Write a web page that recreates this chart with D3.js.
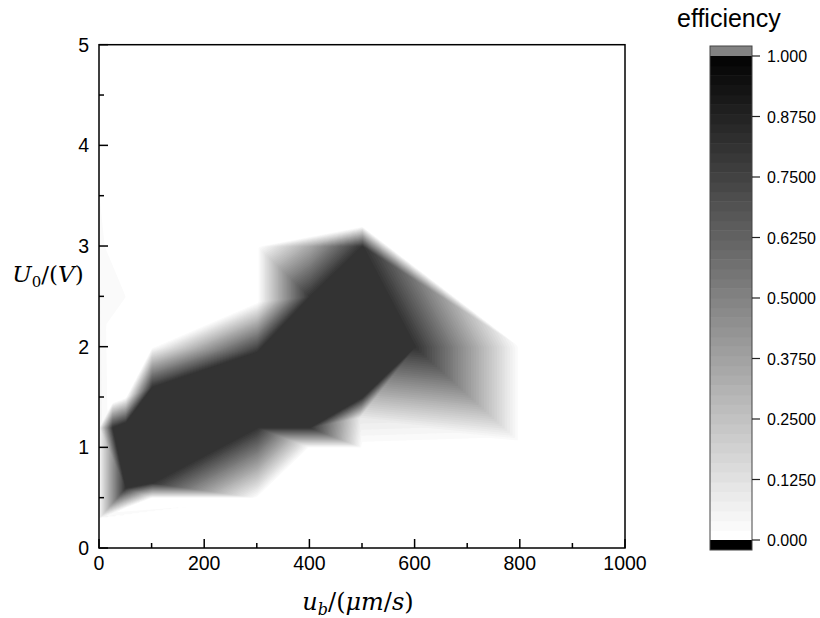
<!DOCTYPE html>
<html><head><meta charset="utf-8">
<script src="https://cdn.jsdelivr.net/npm/d3@7"></script>
<style>body{margin:0;background:#fff}</style>
</head><body><svg id="c" width="820" height="618"></svg>
<script>
// ---- data ----
const ubVals  = [0,   0,    0,    0,    20,  25,   25,  50,   50,   50,  50,  100, 100,  100,  100,  100, 300, 300,  300,  300,  300, 400, 400,  400,  400,  500, 495, 500,  500,  500, 600,  800, 800];
const u0Vals  = [4.0, 3.0,  1.2,  0.3,  3.0, 1.2,  1.45, 1.25, 0.6,  0.4, 1.5, 0.5, 0.65, 1.1,  1.6,  2.0, 0.5, 1.2,  1.95, 2.45, 3.0, 1.0, 1.2,  2.5,  3.0,  1.0, 1.3, 1.5,  3.0,  3.2, 2.0,  2.0, 1.05];
const effVals = [0.0, 0.04, 0.05, 0.05, 0.0, 0.81, 0.0, 0.81, 0.81, 0.0, 0.0, 0.0, 0.81, 0.81, 0.81, 0.0, 0.0, 0.81, 0.81, 0.0,  0.0, 0.0, 0.81, 0.81, 0.35, 0.0, 0.1, 0.81, 0.81, 0.0, 0.81, 0.0, 0.0];
const xTicks = [0, 200, 400, 600, 800, 1000];
const xMinor = [100, 300, 500, 700, 900];
const yTicks = [0, 1, 2, 3, 4, 5];
const yMinor = [0.5, 1.5, 2.5, 3.5, 4.5];
const cbTicks = [0, 0.125, 0.25, 0.375, 0.5, 0.625, 0.75, 0.875, 1.0];
const cbLabels = ["0.000", "0.1250", "0.2500", "0.3750", "0.5000", "0.6250", "0.7500", "0.8750", "1.000"];
const nLevels = 50;

// ---- layout ----
const L = 99, R = 625, T = 44.7, B = 548;
const svg = d3.select("#c");
const x = d3.scaleLinear().domain([0, 1000]).range([L, R]);
const y = d3.scaleLinear().domain([0, 5]).range([B, T]);
const levels = d3.range(nLevels).map(i => i / nLevels);
const gray = v => { const g = Math.round(255 * (1 - v)); return `rgb(${g},${g},${g})`; };

// ---- triangulated surface rasterised to a grid ----
const pts = ubVals.map((u, i) => [x(u) - L, y(u0Vals[i]) - T]);
const del = d3.Delaunay.from(pts);
const W = Math.round(R - L) + 1, H = Math.round(B - T) + 1;
const grid = new Float64Array(W * H).fill(-1);
const tri = del.triangles;
for (let k = 0; k < tri.length; k += 3) {
  const a = tri[k], b = tri[k + 1], c = tri[k + 2];
  const [ax, ay] = pts[a], [bx, by] = pts[b], [cx, cy] = pts[c];
  const den = (by - cy) * (ax - cx) + (cx - bx) * (ay - cy);
  if (Math.abs(den) < 1e-9) continue;
  const x0 = Math.max(0, Math.floor(Math.min(ax, bx, cx))), x1 = Math.min(W - 1, Math.ceil(Math.max(ax, bx, cx)));
  const y0 = Math.max(0, Math.floor(Math.min(ay, by, cy))), y1 = Math.min(H - 1, Math.ceil(Math.max(ay, by, cy)));
  for (let j = y0; j <= y1; j++) for (let i = x0; i <= x1; i++) {
    const w1 = ((by - cy) * (i - cx) + (cx - bx) * (j - cy)) / den;
    const w2 = ((cy - ay) * (i - cx) + (ax - cx) * (j - cy)) / den;
    const w3 = 1 - w1 - w2;
    if (w1 < -1e-6 || w2 < -1e-6 || w3 < -1e-6) continue;
    grid[j * W + i] = w1 * effVals[a] + w2 * effVals[b] + w3 * effVals[c];
  }
}
const contours = d3.contours().size([W, H]).smooth(true);
const path = d3.geoPath(d3.geoIdentity());
const gC = svg.append("g").attr("transform", `translate(${L},${T})`);
levels.forEach(t => {
  if (t === 0) return;
  gC.append("path").attr("d", path(contours.contour(grid, t - 1e-9))).attr("fill", gray(t));
});

// ---- axes ----
const tickFont = "Liberation Sans, Arial, sans-serif";
const ax = svg.append("g").attr("stroke", "#000").attr("stroke-width", 1.5);
ax.append("rect").attr("x", L).attr("y", T).attr("width", R - L).attr("height", B - T).attr("fill", "none");
xTicks.forEach(v => ax.append("line").attr("x1", x(v)).attr("x2", x(v)).attr("y1", B).attr("y2", B - 9));
xMinor.forEach(v => ax.append("line").attr("x1", x(v)).attr("x2", x(v)).attr("y1", B).attr("y2", B - 5));
yTicks.forEach(v => ax.append("line").attr("y1", y(v)).attr("y2", y(v)).attr("x1", L).attr("x2", L + 9));
yMinor.forEach(v => ax.append("line").attr("y1", y(v)).attr("y2", y(v)).attr("x1", L).attr("x2", L + 5));
svg.append("g").selectAll("text").data(xTicks).join("text")
  .attr("x", d => x(d)).attr("y", 570).attr("text-anchor", "middle")
  .attr("font-family", tickFont).attr("font-size", 19.5).text(d => d);
svg.append("g").selectAll("text").data(yTicks).join("text")
  .attr("x", 89).attr("y", d => y(d) + 7).attr("text-anchor", "end")
  .attr("font-family", tickFont).attr("font-size", 19.5).text(d => d);

const serif = "DejaVu Serif, Liberation Serif, serif";
const xl = svg.append("text").attr("x", 358).attr("y", 610).attr("text-anchor", "middle")
  .attr("font-family", serif).attr("font-size", 24);
xl.append("tspan").attr("font-style", "italic").text("u");
xl.append("tspan").attr("font-style", "italic").attr("font-size", 16).attr("dy", 5).text("b");
xl.append("tspan").attr("dy", -5).text("/(");
xl.append("tspan").attr("font-style", "italic").text("μm");
xl.append("tspan").text("/");
xl.append("tspan").attr("font-style", "italic").text("s");
xl.append("tspan").text(")");
const yl = svg.append("text").attr("x", 48).attr("y", 282).attr("text-anchor", "middle")
  .attr("font-family", serif).attr("font-size", 23);
yl.append("tspan").attr("font-style", "italic").text("U");
yl.append("tspan").attr("font-size", 15).attr("dy", 5).text("0");
yl.append("tspan").attr("dy", -5).text("/(");
yl.append("tspan").attr("font-style", "italic").text("V");
yl.append("tspan").text(")");

// ---- colour bar ----
const cbL = 710, cbR = 752;
const cy = d3.scaleLinear().domain([0, 1]).range([540, 56]);
const cb = svg.append("g");
levels.forEach(t => cb.append("rect").attr("x", cbL).attr("width", cbR - cbL)
  .attr("y", cy(t + 1 / nLevels)).attr("height", cy(t) - cy(t + 1 / nLevels) + 0.5).attr("fill", gray(t)));
cb.append("rect").attr("x", cbL).attr("width", cbR - cbL).attr("y", 46).attr("height", 10).attr("fill", "#828282");
cb.append("rect").attr("x", cbL).attr("width", cbR - cbL).attr("y", 540).attr("height", 10).attr("fill", "#000");
cb.append("rect").attr("x", cbL).attr("width", cbR - cbL).attr("y", 46).attr("height", 504)
  .attr("fill", "none").attr("stroke", "#444").attr("stroke-width", 1);
cb.selectAll("line.t").data(cbTicks).join("line").attr("class", "t")
  .attr("x1", cbR).attr("x2", cbR + 8).attr("y1", d => cy(d)).attr("y2", d => cy(d))
  .attr("stroke", "#222").attr("stroke-width", 1.2);
cb.selectAll("text").data(cbTicks).join("text")
  .attr("x", 767).attr("y", d => cy(d) + 6).attr("font-family", tickFont).attr("font-size", 16)
  .text((d, i) => cbLabels[i]);
svg.append("text").attr("x", 677).attr("y", 27).attr("font-family", tickFont).attr("font-size", 25)
  .text("efficiency");
</script>
</body></html>
